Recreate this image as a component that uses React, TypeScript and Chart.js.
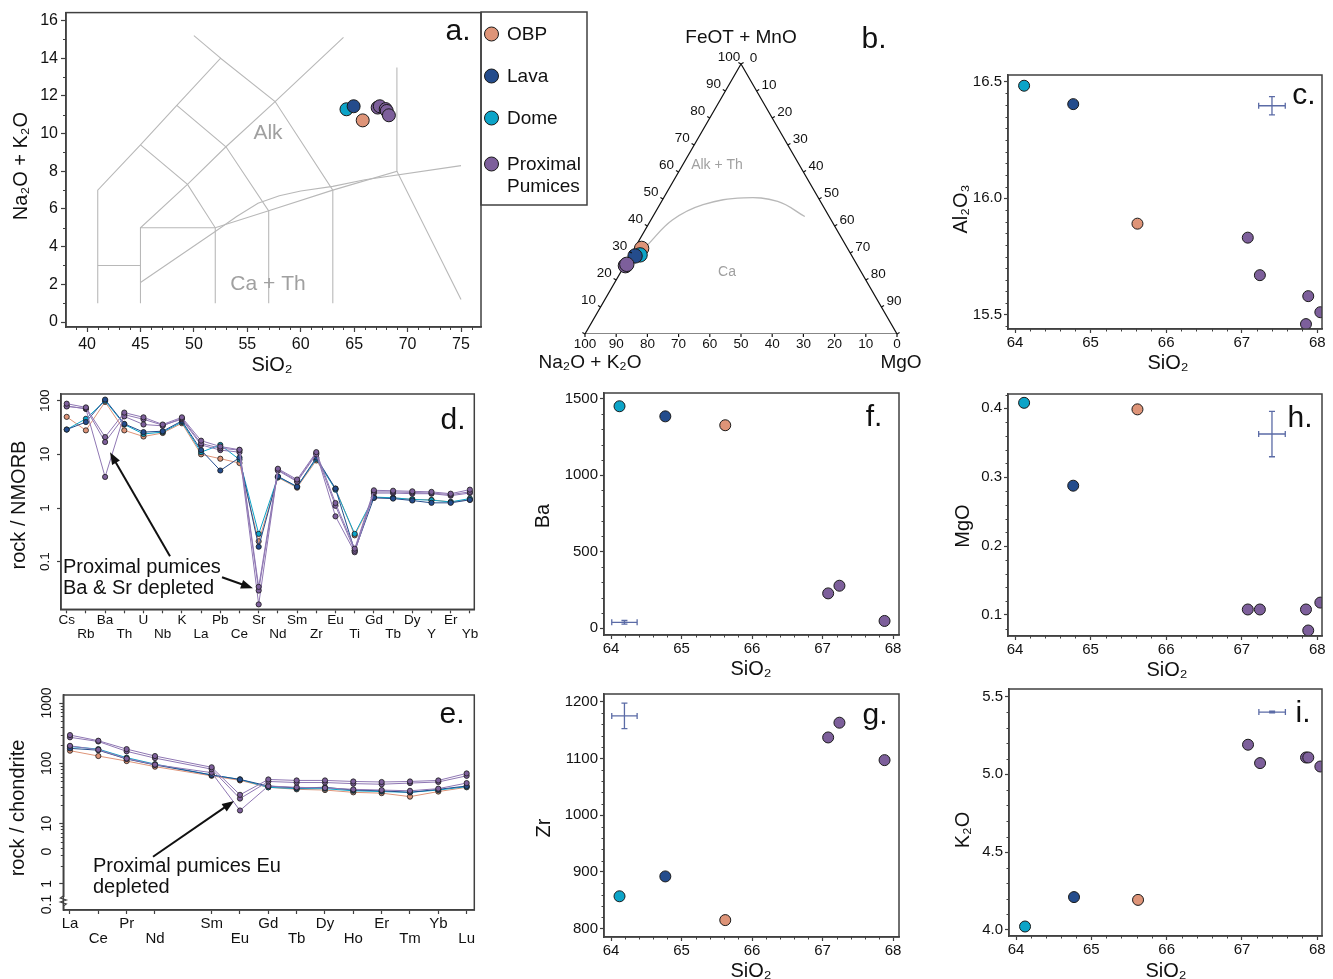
import React, { useEffect, useRef } from "react";
import { Chart, registerables } from "chart.js";

Chart.register(...registerables);

const PAGE_W = 1333;
const PAGE_H = 979;
const FONT = '"Liberation Sans", Arial, Helvetica, sans-serif';
const FRAME = "#404040";
const ERR = "#5b6ba6";
const GRAY_LINE = "#b8b8b8";
const GRAY_TEXT = "#a0a0a0";

// ---------- groups ----------
const legendLines = [["OBP"], ["Lava"], ["Dome"], ["Proximal", "Pumices"]];
const colObp = "#DE9478";
const colLava = "#244C8C";
const colDome = "#0CA4C8";
const colProx = "#7D5F9B";
const colProxLine = "#8f77b3";

// ---------- a. TAS ----------
const tasObpSiO2 = [65.8];
const tasObpAlk = [10.7];
const tasLavaSiO2 = [64.95];
const tasLavaAlk = [11.45];
const tasDomeSiO2 = [64.28];
const tasDomeAlk = [11.29];
const tasProxSiO2 = [67.2, 67.4, 67.95, 68.05, 68.25];
const tasProxAlk = [11.38, 11.45, 11.3, 11.2, 10.97];
const tasLines: number[][][] = [
  [[41, 1], [41, 7], [45, 9.4], [48.4, 11.5], [52.5, 14], [57.6, 11.7], [63, 7], [63, 1]],
  [[50, 15.2], [52.5, 14]],
  [[41, 3], [45, 3]],
  [[45, 1], [45, 5], [49.4, 7.3], [53, 9.3], [57.6, 11.7], [64, 15.1]],
  [[45, 9.4], [49.4, 7.3], [52, 5], [52, 1]],
  [[48.4, 11.5], [53, 9.3], [57, 5.9], [57, 1]],
  [[45, 5], [52, 5], [57, 5.9], [63, 7], [69, 8], [69, 13.5]],
  [[69, 8], [75, 1.2]],
  [[45, 2.1], [52, 4.8], [54, 5.6], [56, 6.3], [58, 6.7], [60, 6.95], [63, 7.2], [66, 7.55], [75, 8.3]],
];

// ---------- b. AFM ternary (percent F = FeOT+MnO, M = MgO, A = rest) ----------
const afmObpF = [31.7];
const afmObpM = [2.3];
const afmDomeF = [29.3];
const afmDomeM = [3.0];
const afmLavaF = [28.9];
const afmLavaM = [1.6];
const afmProxF = [25.3, 25.8];
const afmProxM = [0.3, 0.5];
const afmCurveF = [32.8, 42.2, 47.9, 50.4, 49.1, 43.5];
const afmCurveM = [3.5, 6.9, 13.9, 25.7, 37.2, 48.7];
const afmTickValues = [0, 10, 20, 30, 40, 50, 60, 70, 80, 90, 100];

// ---------- c, f, g, h, i. Harker ----------
const siO2Dome = [64.12];
const siO2Lava = [64.77];
const siO2Obp = [65.62];
const siO2Prox = [67.08, 67.24, 67.85, 67.88, 68.04];
const siO2ProxTrace = [67.08, 67.24, 67.88];

const al2o3Dome = [16.483];
const al2o3Lava = [16.404];
const al2o3Obp = [15.891];
const al2o3Prox = [15.831, 15.67, 15.46, 15.58, 15.511];

const baDome = [1450];
const baLava = [1384];
const baObp = [1326];
const baProx = [228, 278, 48];

const zrDome = [857];
const zrLava = [892];
const zrObp = [815];
const zrProx = [1137, 1163, 1097];

const mgoDome = [0.408];
const mgoLava = [0.2877];
const mgoObp = [0.3985];
const mgoProx = [0.108, 0.108, 0.108, 0.0775, 0.118];

const k2oDome = [4.022];
const k2oLava = [4.211];
const k2oObp = [4.193];
const k2oProx = [5.19, 5.072, 5.108, 5.108, 5.05];

// error crosses: [x, y, xErr, yErr]
const errC = [67.4, 16.397, 0.176, 0.039];
const errF = [64.19, 39, 0.18, 12];
const errG = [64.19, 1175, 0.18, 22.6];
const errH = [67.4, 0.3627, 0.176, 0.033];
const errI = [67.4, 5.4, 0.176, 0.006];

// ---------- d. NMORB spider ----------
const spiderElems = ["Cs", "Rb", "Ba", "Th", "U", "Nb", "K", "La", "Pb", "Ce", "Sr", "Nd", "Sm", "Zr", "Eu", "Ti", "Gd", "Tb", "Dy", "Y", "Er", "Yb"];
const spiderObp = [50, 28, 95, 28, 21.5, 25, 38, 10, 8.3, 6.9, 0.24, 3.7, 2.4, 7.7, 2.3, 0.31, 1.55, 1.55, 1.45, 1.42, 1.3, 1.42];
const spiderLava = [29, 40, 105, 37, 26, 27, 42, 12, 5.0, 8.7, 0.19, 3.9, 2.5, 8.7, 2.3, 0.16, 1.55, 1.5, 1.38, 1.25, 1.25, 1.42];
const spiderDome = [29, 46, 100, 36, 24, 26, 40, 11, 15, 8.0, 0.33, 3.8, 2.5, 8.2, 2.2, 0.33, 1.6, 1.55, 1.45, 1.4, 1.3, 1.5];
const spiderProx1 = [88, 75, 21, 60, 49, 36, 49, 18, 14, 12.2, 0.034, 5.4, 3.4, 11, 1.24, 0.175, 2.14, 2.1, 2.05, 2.0, 1.85, 2.2];
const spiderProx2 = [78, 72, 17, 51, 36, 34, 47, 16, 13, 12, 0.029, 5.0, 3.1, 10, 1.1, 0.16, 2.0, 2.0, 1.95, 1.9, 1.78, 2.0];
const spiderProx3 = [80, 70, 3.8, 55, 45, 35, 45, 15, 12, 11, 0.016, 5.2, 3.2, 10.5, 0.7, 0.15, 1.9, 1.9, 1.85, 1.85, 1.7, 1.9];
const spiderYTicks = [0.1, 1, 10, 100];
const spiderYLabels = ["0.1", "1", "10", "100"];

// ---------- e. chondrite REE ----------
const reeElems = ["La", "Ce", "Pr", "Nd", "Sm", "Eu", "Gd", "Tb", "Dy", "Ho", "Er", "Tm", "Yb", "Lu"];
const reePos = [0, 1, 2, 3, 5, 6, 7, 8, 9, 10, 11, 12, 13, 14];
const reeObp = [162, 132, 109, 88, 62, 52, 40, 37, 36, 33, 32, 28, 34, 40];
const reeLava = [177, 165, 118, 94, 64, 54, 42, 39, 40, 36, 35, 33, 37, 42];
const reeDome = [190, 172, 124, 97, 64, 54, 40, 38, 38, 35, 34, 33, 36, 41];
const reeProx1 = [294, 237, 172, 132, 86, 30, 54, 52, 52, 50, 49, 50, 52, 68];
const reeProx2 = [270, 230, 158, 122, 80, 26, 50, 48, 48, 46, 45, 47, 49, 62];
const reeProx3 = [195, 168, 120, 95, 70, 16.5, 42, 40, 39, 37, 36, 35, 38, 47];
const reeYTicks = [1, 10, 100, 1000];
const reeYLabelValues = [1000, 100, 10, 3.42, 1, 0.455];
const reeYLabels = ["1000", "100", "10", "0", "1", "0.1"];
const reeBreakValue = 0.52;

// ---------- helpers ----------
type P = { x: number; y: number };
const zip = (xs: number[], ys: number[]): P[] => xs.map((x, i) => ({ x, y: ys[i] }));
const range = (a: number, b: number, step: number) => {
  const out: number[] = [];
  const n = Math.round((b - a) / step);
  for (let i = 0; i <= n; i++) out.push(+(a + i * step).toFixed(6));
  return out;
};
const minorOf = (a: number, b: number, step: number, major: number) =>
  range(a, b, step).filter((v) => Math.abs(v / major - Math.round(v / major)) > 1e-6);
const logMinor = (lo: number, hi: number) => {
  const out: number[] = [];
  for (let k = Math.floor(Math.log10(lo)); k <= Math.ceil(Math.log10(hi)); k++) {
    for (let m = 2; m <= 9; m++) {
      const v = m * Math.pow(10, k);
      if (v >= lo && v <= hi) out.push(v);
    }
  }
  return out;
};
const ternXY = (f: number, m: number) => ({ x: (m + f / 2) / 100, y: f / 100 });

type TextSpec = { t: string; x: number; y: number; size: number; color?: string; align?: CanvasTextAlign; rot?: number };

function drawText(ctx: CanvasRenderingContext2D, s: TextSpec) {
  ctx.save();
  ctx.font = `${s.size}px ${FONT}`;
  ctx.fillStyle = s.color || "#111";
  ctx.textAlign = s.align || "center";
  ctx.textBaseline = "middle";
  ctx.translate(s.x, s.y);
  if (s.rot) ctx.rotate(s.rot);
  ctx.fillText(s.t, 0, 0);
  ctx.restore();
}

function drawArrow(ctx: CanvasRenderingContext2D, x1: number, y1: number, x2: number, y2: number) {
  const a = Math.atan2(y2 - y1, x2 - x1);
  const hl = 12;
  const hw = 4.5;
  const c = Math.cos(a);
  const s = Math.sin(a);
  ctx.save();
  ctx.strokeStyle = "#111";
  ctx.fillStyle = "#111";
  ctx.lineWidth = 2;
  ctx.beginPath();
  ctx.moveTo(x1, y1);
  ctx.lineTo(x2 - hl * 0.8 * c, y2 - hl * 0.8 * s);
  ctx.stroke();
  ctx.beginPath();
  ctx.moveTo(x2, y2);
  ctx.lineTo(x2 - hl * c + hw * s, y2 - hl * s - hw * c);
  ctx.lineTo(x2 - hl * c - hw * s, y2 - hl * s + hw * c);
  ctx.closePath();
  ctx.fill();
  ctx.restore();
}

type Decor = {
  frame?: boolean;
  minorX?: number[];
  minorY?: number[];
  minorLen?: number;
  err?: number[];
  texts?: TextSpec[];
  yRot?: { values: number[]; labels: string[]; x: number; size: number };
  arrows?: number[][];
  extra?: (chart: any, ctx: CanvasRenderingContext2D) => void;
};

function makeDecor(d: Decor) {
  return {
    id: "decor",
    afterDraw(chart: any) {
      const ctx: CanvasRenderingContext2D = chart.ctx;
      const ca = chart.chartArea;
      const xs = chart.scales.x;
      const ys = chart.scales.y;
      ctx.save();
      if (d.extra) d.extra(chart, ctx);
      if (d.frame) {
        ctx.strokeStyle = FRAME;
        ctx.lineWidth = 1.5;
        ctx.strokeRect(ca.left, ca.top, ca.right - ca.left, ca.bottom - ca.top);
      }
      const ml = d.minorLen ?? 2.5;
      ctx.strokeStyle = FRAME;
      ctx.lineWidth = 1;
      (d.minorX || []).forEach((v) => {
        const px = Math.round(xs.getPixelForValue(v)) + 0.5;
        ctx.beginPath();
        ctx.moveTo(px, ca.bottom);
        ctx.lineTo(px, ca.bottom + ml);
        ctx.stroke();
      });
      (d.minorY || []).forEach((v) => {
        const py = Math.round(ys.getPixelForValue(v)) + 0.5;
        ctx.beginPath();
        ctx.moveTo(ca.left, py);
        ctx.lineTo(ca.left - ml, py);
        ctx.stroke();
      });
      if (d.err) {
        const [x, y, ex, ey] = d.err;
        const cx = xs.getPixelForValue(x);
        const cy = ys.getPixelForValue(y);
        const x0 = xs.getPixelForValue(x - ex);
        const x1 = xs.getPixelForValue(x + ex);
        const y0 = ys.getPixelForValue(y - ey);
        const y1 = ys.getPixelForValue(y + ey);
        ctx.strokeStyle = ERR;
        ctx.lineWidth = 1.3;
        ctx.beginPath();
        ctx.moveTo(x0, cy); ctx.lineTo(x1, cy);
        ctx.moveTo(x0, cy - 3); ctx.lineTo(x0, cy + 3);
        ctx.moveTo(x1, cy - 3); ctx.lineTo(x1, cy + 3);
        ctx.moveTo(cx, y0); ctx.lineTo(cx, y1);
        ctx.moveTo(cx - 3, y0); ctx.lineTo(cx + 3, y0);
        ctx.moveTo(cx - 3, y1); ctx.lineTo(cx + 3, y1);
        ctx.stroke();
      }
      (d.arrows || []).forEach(([ax, ay, bx, by]) => {
        drawArrow(ctx, xs.getPixelForValue(ax), ys.getPixelForValue(ay), xs.getPixelForValue(bx), ys.getPixelForValue(by));
      });
      if (d.yRot) {
        const r = d.yRot;
        r.values.forEach((v, i) => {
          drawText(ctx, { t: r.labels[i], x: r.x, y: ys.getPixelForValue(v), size: r.size, rot: -Math.PI / 2 });
        });
      }
      (d.texts || []).forEach((t) => drawText(ctx, t));
      ctx.restore();
    },
  };
}

type AxisOpts = {
  type?: string;
  min: number;
  max: number;
  ticks: number[];
  fmt?: (v: number, i: number) => any;
  size: number;
  showLabels?: boolean;
  tickLen?: number;
  pad?: number;
  lineHeight?: number;
};

function axis(o: AxisOpts) {
  return {
    type: o.type || "linear",
    min: o.min,
    max: o.max,
    afterBuildTicks: (s: any) => {
      s.ticks = o.ticks.map((v) => ({ value: v }));
    },
    grid: { drawOnChartArea: false, drawTicks: true, tickLength: o.tickLen ?? 4, tickColor: FRAME, tickWidth: 1.2 },
    border: { display: true, color: FRAME, width: 1.5 },
    ticks: {
      display: o.showLabels !== false,
      autoSkip: false,
      maxRotation: 0,
      minRotation: 0,
      padding: o.pad ?? 2,
      color: "#111",
      font: { family: FONT, size: o.size, lineHeight: o.lineHeight ?? 1.2 },
      callback: (v: any, i: number) => (o.fmt ? o.fmt(Number(v), i) : String(v)),
    },
  };
}

function pts(data: P[], color: string, r = 5.5) {
  return {
    data,
    backgroundColor: color,
    borderColor: "#1a1a1a",
    borderWidth: 1,
    pointRadius: r,
    pointHoverRadius: r,
    showLine: false,
    order: 0,
  };
}

function line(data: P[], color: string, width = 1, order = 10, tension = 0) {
  return { data, borderColor: color, borderWidth: width, pointRadius: 0, showLine: true, fill: false, tension, order };
}

type Area = { l: number; t: number; r: number; b: number };

// the y axis box takes yBox px left of the plot, the x axis box xBox px below it
function baseConfig(area: Area, datasets: any[], scales: any, plugin: any, yBox: number, xBox: number) {
  if (scales.x.display !== false) scales.x.afterFit = (s: any) => { s.height = xBox; };
  if (scales.y.display !== false) scales.y.afterFit = (s: any) => { s.width = yBox; };
  return {
    type: "scatter",
    data: { datasets },
    options: {
      responsive: false,
      animation: false,
      events: [],
      devicePixelRatio: 1,
      layout: {
        padding: { left: area.l - yBox, top: area.t, right: PAGE_W - area.r, bottom: PAGE_H - area.b - xBox },
      },
      plugins: { legend: { display: false }, tooltip: { enabled: false } },
      scales,
    },
    plugins: [plugin],
  };
}

// ---------- panel builders ----------
function buildA() {
  const area = { l: 66, t: 12, r: 481, b: 327 };
  const r = 6.5;
  const datasets = [
    pts(zip(tasProxSiO2, tasProxAlk), colProx, r),
    pts(zip(tasLavaSiO2, tasLavaAlk), colLava, r),
    pts(zip(tasDomeSiO2, tasDomeAlk), colDome, r),
    pts(zip(tasObpSiO2, tasObpAlk), colObp, r),
    ...tasLines.map((seg) => line(seg.map(([x, y]) => ({ x, y })), GRAY_LINE, 1.1, 10)),
  ];
  const scales = {
    x: axis({ min: 38.03, max: 76.87, ticks: range(40, 75, 5), size: 16, tickLen: 5, pad: 3 }),
    y: axis({ min: -0.265, max: 16.42, ticks: range(0, 16, 2), size: 16, tickLen: 5, pad: 3 }),
  };
  const legendColors = [colObp, colLava, colDome, colProx];
  const legendY = [34, 76, 118, 164];
  const decor = makeDecor({
    frame: true,
    minorX: minorOf(39, 76, 1, 5),
    minorY: minorOf(1, 15, 1, 2),
    minorLen: 3,
    texts: [
      { t: "Alk", x: 268, y: 133, size: 21, color: GRAY_TEXT },
      { t: "Ca + Th", x: 268, y: 284, size: 21, color: GRAY_TEXT },
      { t: "a.", x: 458, y: 32, size: 30 },
      { t: "SiO₂", x: 272, y: 365, size: 20 },
      { t: "Na₂O + K₂O", x: 21, y: 166, size: 20, rot: -Math.PI / 2 },
    ],
    extra: (_chart, ctx) => {
      ctx.save();
      ctx.fillStyle = "#fff";
      ctx.fillRect(481, 12, 106, 193);
      ctx.strokeStyle = FRAME;
      ctx.lineWidth = 1.5;
      ctx.strokeRect(481, 12, 106, 193);
      legendLines.forEach((lines, i) => {
        ctx.beginPath();
        ctx.arc(491.5, legendY[i], 7, 0, Math.PI * 2);
        ctx.fillStyle = legendColors[i];
        ctx.fill();
        ctx.strokeStyle = "#1a1a1a";
        ctx.lineWidth = 1;
        ctx.stroke();
        lines.forEach((t, k) => {
          drawText(ctx, { t, x: 507, y: legendY[i] + 1 + k * 22, size: 19, align: "left" });
        });
      });
      ctx.restore();
    },
  });
  return baseConfig(area, datasets, scales, decor, 60, 40);
}

function buildB() {
  const area = { l: 585, t: 64, r: 897, b: 334 };
  const tern = (fs: number[], ms: number[]) => fs.map((f, i) => ternXY(f, ms[i]));
  const triangle = [ternXY(0, 0), ternXY(0, 100), ternXY(100, 0), ternXY(0, 0)];
  const r = 7.2;
  const datasets = [
    pts(tern(afmProxF, afmProxM), colProx, r),
    pts(tern(afmLavaF, afmLavaM), colLava, r),
    pts(tern(afmDomeF, afmDomeM), colDome, r),
    pts(tern(afmObpF, afmObpM), colObp, r),
    line(tern(afmCurveF, afmCurveM), GRAY_LINE, 1.3, 10, 0.4),
    line(triangle, "#111", 1.2, 9),
  ];
  const hidden = (min: number, max: number) => ({ type: "linear", display: false, min, max });
  const scales = { x: hidden(0, 1), y: hidden(0, 1) };
  const decor = makeDecor({
    texts: [
      { t: "FeOT + MnO", x: 741, y: 38, size: 19 },
      { t: "b.", x: 874, y: 40, size: 30 },
      { t: "Na₂O + K₂O", x: 590, y: 363, size: 19 },
      { t: "MgO", x: 901, y: 363, size: 19 },
      { t: "Alk + Th", x: 717, y: 165, size: 14, color: GRAY_TEXT },
      { t: "Ca", x: 727, y: 272, size: 14, color: GRAY_TEXT },
    ],
    extra: (chart, ctx) => {
      const xs = chart.scales.x;
      const ys = chart.scales.y;
      const px = (f: number, m: number) => {
        const p = ternXY(f, m);
        return [xs.getPixelForValue(p.x), ys.getPixelForValue(p.y)];
      };
      ctx.strokeStyle = "#111";
      ctx.lineWidth = 1.2;
      afmTickValues.forEach((v) => {
        const [lx, ly] = px(v, 0);
        ctx.beginPath(); ctx.moveTo(lx, ly); ctx.lineTo(lx - 2.6, ly - 1.5); ctx.stroke();
        if (v > 0) drawText(ctx, { t: String(v), x: lx - 12, y: ly - 6.5, size: 13.5 });
        const [rx, ry] = px(100 - v, v);
        ctx.beginPath(); ctx.moveTo(rx, ry); ctx.lineTo(rx + 2.6, ry - 1.5); ctx.stroke();
        if (v < 100) drawText(ctx, { t: String(v), x: rx + 12.5, y: ry - 6, size: 13.5 });
        const [bx, by] = px(0, 100 - v);
        ctx.beginPath(); ctx.moveTo(bx, by); ctx.lineTo(bx, by + 3); ctx.stroke();
        drawText(ctx, { t: String(v), x: bx, y: by + 10, size: 13.5 });
      });
    },
  });
  return baseConfig(area, datasets, scales, decor, 0, 0);
}

type HarkerSpec = {
  area: Area;
  xMin: number;
  xMax: number;
  yMin: number;
  yMax: number;
  yTicks: number[];
  yFmt: (v: number) => string;
  yMinor: number[];
  groups: { xs: number[]; ys: number[]; color: string }[];
  err: number[];
  letter: TextSpec;
  xTitle: TextSpec;
  yTitle: TextSpec;
};

function buildHarker(s: HarkerSpec) {
  const datasets = s.groups.map((g) => pts(zip(g.xs, g.ys), g.color, 5.5));
  const scales = {
    x: axis({ min: s.xMin, max: s.xMax, ticks: [64, 65, 66, 67, 68], size: 15, tickLen: 4, pad: 1 }),
    y: axis({ min: s.yMin, max: s.yMax, ticks: s.yTicks, size: 15, tickLen: 4, pad: 2, fmt: s.yFmt }),
  };
  const decor = makeDecor({
    frame: true,
    minorX: minorOf(64, 68, 0.2, 1),
    minorY: s.yMinor,
    minorLen: 2.5,
    err: s.err,
    texts: [s.letter, s.xTitle, { ...s.yTitle, rot: -Math.PI / 2 }],
  });
  return baseConfig(s.area, datasets, scales, decor, 50, 30);
}

const harkerGroups = (dome: number[], lava: number[], obp: number[], prox: number[], proxX: number[]) => [
  { xs: proxX, ys: prox, color: colProx },
  { xs: siO2Lava, ys: lava, color: colLava },
  { xs: siO2Dome, ys: dome, color: colDome },
  { xs: siO2Obp, ys: obp, color: colObp },
];

function buildC() {
  return buildHarker({
    area: { l: 1008, t: 75, r: 1322, b: 329 },
    xMin: 63.907, xMax: 68.062, yMin: 15.439, yMax: 16.529,
    yTicks: [15.5, 16, 16.5], yFmt: (v) => v.toFixed(1),
    yMinor: minorOf(15.45, 16.5, 0.05, 0.5),
    groups: harkerGroups(al2o3Dome, al2o3Lava, al2o3Obp, al2o3Prox, siO2Prox),
    err: errC,
    letter: { t: "c.", x: 1304, y: 96, size: 30 },
    xTitle: { t: "SiO₂", x: 1168, y: 363, size: 20 },
    yTitle: { t: "Al₂O₃", x: 961, y: 209, size: 20 },
  });
}

function buildF() {
  return buildHarker({
    area: { l: 604, t: 393, r: 899, b: 635 },
    xMin: 63.9, xMax: 68.085, yMin: -43.7, yMax: 1536.5,
    yTicks: [0, 500, 1000, 1500], yFmt: (v) => String(Math.round(v)),
    yMinor: minorOf(0, 1500, 100, 500),
    groups: harkerGroups(baDome, baLava, baObp, baProx, siO2ProxTrace),
    err: errF,
    letter: { t: "f.", x: 874, y: 418, size: 30 },
    xTitle: { t: "SiO₂", x: 751, y: 669, size: 20 },
    yTitle: { t: "Ba", x: 543, y: 516, size: 20 },
  });
}

function buildG() {
  return buildHarker({
    area: { l: 604, t: 694, r: 899, b: 937 },
    xMin: 63.9, xMax: 68.085, yMin: 785.2, yMax: 1213.6,
    yTicks: [800, 900, 1000, 1100, 1200], yFmt: (v) => String(Math.round(v)),
    yMinor: minorOf(800, 1200, 20, 100),
    groups: harkerGroups(zrDome, zrLava, zrObp, zrProx, siO2ProxTrace),
    err: errG,
    letter: { t: "g.", x: 875, y: 716, size: 30 },
    xTitle: { t: "SiO₂", x: 751, y: 971, size: 20 },
    yTitle: { t: "Zr", x: 544, y: 828, size: 20 },
  });
}

function buildH() {
  return buildHarker({
    area: { l: 1008, t: 394, r: 1322, b: 636 },
    xMin: 63.907, xMax: 68.062, yMin: 0.0695, yMax: 0.4208,
    yTicks: [0.1, 0.2, 0.3, 0.4], yFmt: (v) => v.toFixed(1),
    yMinor: minorOf(0.08, 0.42, 0.02, 0.1),
    groups: harkerGroups(mgoDome, mgoLava, mgoObp, mgoProx, siO2Prox),
    err: errH,
    letter: { t: "h.", x: 1300, y: 419, size: 30 },
    xTitle: { t: "SiO₂", x: 1167, y: 670, size: 20 },
    yTitle: { t: "MgO", x: 963, y: 526, size: 20 },
  });
}

function buildI() {
  return buildHarker({
    area: { l: 1009, t: 689, r: 1322, b: 936 },
    xMin: 63.907, xMax: 68.062, yMin: 3.961, yMax: 5.548,
    yTicks: [4, 4.5, 5, 5.5], yFmt: (v) => v.toFixed(1),
    yMinor: minorOf(4, 5.5, 0.1, 0.5),
    groups: harkerGroups(k2oDome, k2oLava, k2oObp, k2oProx, siO2Prox),
    err: errI,
    letter: { t: "i.", x: 1303, y: 714, size: 30 },
    xTitle: { t: "SiO₂", x: 1166, y: 971, size: 20 },
    yTitle: { t: "K₂O", x: 963, y: 830, size: 20 },
  });
}

function traceSet(pos: number[], vals: number[], color: string, lineColor: string) {
  return {
    data: zip(pos, vals),
    showLine: true,
    borderColor: lineColor,
    borderWidth: 1,
    backgroundColor: color,
    pointBackgroundColor: color,
    pointBorderColor: "#1a1a1a",
    pointBorderWidth: 0.8,
    pointRadius: 2.6,
    tension: 0,
    fill: false,
  };
}

function buildD() {
  const area = { l: 61, t: 394, r: 474.3, b: 609.3 };
  const pos = spiderElems.map((_, i) => i);
  const datasets = [
    traceSet(pos, spiderProx1, colProx, colProxLine),
    traceSet(pos, spiderProx2, colProx, colProxLine),
    traceSet(pos, spiderProx3, colProx, colProxLine),
    traceSet(pos, spiderLava, colLava, colLava),
    traceSet(pos, spiderDome, colDome, colDome),
    traceSet(pos, spiderObp, colObp, colObp),
  ];
  const scales = {
    x: axis({
      min: -0.297, max: 21.23, ticks: pos, size: 13.5, tickLen: 4, pad: 0, lineHeight: 1.06,
      fmt: (_v, i) => (i % 2 === 0 ? [spiderElems[i], ""] : ["", spiderElems[i]]),
    }),
    y: axis({ type: "logarithmic", min: 0.01297, max: 133.3, ticks: spiderYTicks, size: 13, tickLen: 4, showLabels: false }),
  };
  const decor = makeDecor({
    frame: true,
    yRot: { values: spiderYTicks, labels: spiderYLabels, x: 45, size: 13.5 },
    arrows: [
      [5.38, 0.126, 2.255, 10.9],
      [8.09, 0.0512, 9.7, 0.032],
    ],
    texts: [
      { t: "d.", x: 453, y: 421, size: 30 },
      { t: "rock / NMORB", x: 19, y: 505, size: 20, rot: -Math.PI / 2 },
      { t: "Proximal pumices", x: 63, y: 567, size: 20, align: "left" },
      { t: "Ba & Sr depleted", x: 63, y: 588, size: 20, align: "left" },
    ],
  });
  return baseConfig(area, datasets, scales, decor, 40, 36);
}

function buildE() {
  const area = { l: 63.3, t: 695, r: 474.3, b: 910 };
  const datasets = [
    traceSet(reePos, reeProx1, colProx, colProxLine),
    traceSet(reePos, reeProx2, colProx, colProxLine),
    traceSet(reePos, reeProx3, colProx, colProxLine),
    traceSet(reePos, reeLava, colLava, colLava),
    traceSet(reePos, reeDome, colDome, colDome),
    traceSet(reePos, reeObp, colObp, colObp),
  ];
  const scales = {
    x: axis({
      min: -0.236, max: 14.27, ticks: reePos, size: 15, tickLen: 4, pad: 2, lineHeight: 1.0,
      fmt: (_v, i) => (i % 2 === 0 ? [reeElems[i], ""] : ["", reeElems[i]]),
    }),
    y: axis({ type: "logarithmic", min: 0.369, max: 1358, ticks: reeYTicks, size: 14, tickLen: 4, showLabels: false }),
  };
  const decor = makeDecor({
    frame: true,
    minorY: logMinor(1, 1000),
    minorLen: 2.5,
    yRot: { values: reeYLabelValues, labels: reeYLabels, x: 47, size: 14 },
    arrows: [[2.93, 2.82, 5.79, 23.8]],
    texts: [
      { t: "e.", x: 452, y: 715, size: 30 },
      { t: "rock / chondrite", x: 18, y: 808, size: 20, rot: -Math.PI / 2 },
      { t: "Proximal pumices Eu", x: 93, y: 866, size: 20, align: "left" },
      { t: "depleted", x: 93, y: 887, size: 20, align: "left" },
    ],
    extra: (chart, ctx) => {
      const ca = chart.chartArea;
      const yb = chart.scales.y.getPixelForValue(reeBreakValue);
      ctx.save();
      ctx.fillStyle = "#fff";
      ctx.fillRect(ca.left - 2, yb - 4, 4, 8);
      ctx.strokeStyle = FRAME;
      ctx.lineWidth = 1.2;
      ctx.beginPath();
      ctx.moveTo(ca.left, yb - 5);
      ctx.lineTo(ca.left - 3, yb - 3);
      ctx.lineTo(ca.left + 3, yb - 1);
      ctx.lineTo(ca.left - 3, yb + 1);
      ctx.lineTo(ca.left + 3, yb + 3);
      ctx.lineTo(ca.left, yb + 5);
      ctx.stroke();
      ctx.restore();
    },
  });
  return baseConfig(area, datasets, scales, decor, 40, 40);
}

const builders = [buildA, buildB, buildC, buildD, buildE, buildF, buildG, buildH, buildI];

function ChartCanvas({ build }: { build: () => any }) {
  const ref = useRef<HTMLCanvasElement>(null);
  useEffect(() => {
    if (!ref.current) return;
    const chart = new Chart(ref.current, build() as any);
    return () => chart.destroy();
  }, [build]);
  return (
    <canvas
      ref={ref}
      width={PAGE_W}
      height={PAGE_H}
      style={{ position: "absolute", left: 0, top: 0, width: PAGE_W, height: PAGE_H }}
    />
  );
}

export default function App() {
  return (
    <div style={{ position: "absolute", left: 0, top: 0, width: PAGE_W, height: PAGE_H, background: "#fff", overflow: "hidden" }}>
      {builders.map((b, i) => (
        <ChartCanvas key={i} build={b} />
      ))}
    </div>
  );
}
